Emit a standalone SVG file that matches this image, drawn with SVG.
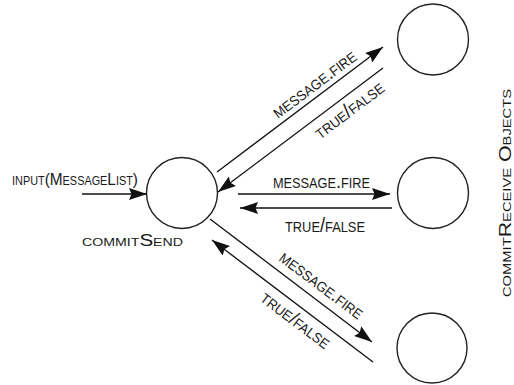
<svg xmlns="http://www.w3.org/2000/svg" width="514" height="385" viewBox="0 0 514 385">
<style>
.node{fill:#fff;stroke:#222;stroke-width:1.4}
.conn{stroke:#111;stroke-width:1.3;fill:none;marker-end:url(#ah)}
.lbl{font-family:"Liberation Sans",Arial,sans-serif;font-variant:small-caps;fill:#1a1a1a}
</style>
<defs>
<marker id="ah" markerUnits="userSpaceOnUse" markerWidth="20" markerHeight="14" refX="18" refY="6" orient="auto">
<path d="M0,0 L18,6 L0,12 L2.5,6 z" fill="#111"/>
</marker>
</defs>
<rect width="514" height="385" fill="#fff"/>
<g id="commitSend">
<circle class="node" cx="182" cy="193" r="35.5"/>
<text class="lbl" x="82" y="246" font-size="16" textLength="101" lengthAdjust="spacingAndGlyphs">commitSend</text>
</g>
<g id="receiver1"><circle class="node" cx="433" cy="39.5" r="35.5"/></g>
<g id="receiver2"><circle class="node" cx="433" cy="193" r="35.5"/></g>
<g id="receiver3"><circle class="node" cx="432" cy="348" r="35"/></g>
<g id="receiveLabel">
<text class="lbl" transform="translate(511,193) rotate(-90)" text-anchor="middle" font-size="16" textLength="208" lengthAdjust="spacingAndGlyphs">commitReceive Objects</text>
</g>
<g id="connectors">
<line class="conn" x1="82" y1="194" x2="147" y2="194"/>
<line class="conn" x1="217" y1="172" x2="383" y2="47"/>
<line class="conn" x1="383" y1="68" x2="218" y2="192"/>
<line class="conn" x1="238" y1="194" x2="390" y2="194"/>
<line class="conn" x1="392" y1="208" x2="240" y2="208"/>
<line class="conn" x1="210" y1="219" x2="372" y2="342"/>
<line class="conn" x1="373" y1="362" x2="212" y2="240"/>
<text class="lbl" x="12" y="185" font-size="17" textLength="126" lengthAdjust="spacingAndGlyphs">input(MessageList)</text>
<text class="lbl" transform="translate(318,89) rotate(-37)" text-anchor="middle" font-size="20" textLength="100" lengthAdjust="spacingAndGlyphs">message.fire</text>
<text class="lbl" transform="translate(353,115) rotate(-37)" text-anchor="middle" font-size="20" textLength="82" lengthAdjust="spacingAndGlyphs">true/false</text>
<text class="lbl" x="321.5" y="188" text-anchor="middle" font-size="20" textLength="97" lengthAdjust="spacingAndGlyphs">message.fire</text>
<text class="lbl" x="325" y="232" text-anchor="middle" font-size="20" textLength="80" lengthAdjust="spacingAndGlyphs">true/false</text>
<text class="lbl" transform="translate(318,290) rotate(37)" text-anchor="middle" font-size="20" textLength="100" lengthAdjust="spacingAndGlyphs">message.fire</text>
<text class="lbl" transform="translate(292,325) rotate(37)" text-anchor="middle" font-size="20" textLength="82" lengthAdjust="spacingAndGlyphs">true/false</text>
</g>
</svg>
